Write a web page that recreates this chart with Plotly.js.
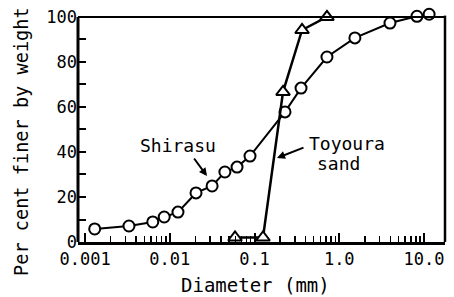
<!DOCTYPE html>
<html>
<head>
<meta charset="utf-8">
<script src="https://cdn.plot.ly/plotly-3.0.1.min.js"></script>
<style>html,body{margin:0;padding:0;background:#fff;}</style>
</head>
<body>
<div id="chart" style="width:454px;height:297px;"></div>
<script>
// Shirasu grading curve
var shirasuDiameter = [0.0013, 0.0033, 0.0063, 0.0086, 0.0125, 0.0204, 0.0316, 0.0447, 0.0622, 0.0885, 0.229, 0.354, 0.716, 1.53, 3.97, 8.26, 11.5];
var shirasuFiner    = [5.8, 7.1, 8.9, 11.1, 13.3, 21.8, 24.9, 31.1, 33.3, 38.2, 57.8, 68.4, 82.2, 90.7, 97.3, 100.3, 101.2];
// Toyoura sand grading curve
var toyouraDiameter = [0.0589, 0.126, 0.217, 0.364, 0.716];
var toyouraFiner    = [2, 2, 66.7, 94.2, 100];
// Tick labels
var xTickVals = [0.001, 0.01, 0.1, 1, 10];
var xTickText = ['0.001', '0.01', '0.1', '1.0', '10.0'];
var yTickVals = [0, 20, 40, 60, 80, 100];
var xTitle = 'Diameter (mm)';
var yTitle = 'Per cent finer by weight';

var minorVals = [];
for (var d = 0.001; d < 20; d *= 10) {
  for (var k = 2; k <= 9; k++) minorVals.push(d * k);
}
var yMinorVals = [10, 30, 50, 70, 90];

var FONT = '"DejaVu Sans Mono", monospace';

var traces = [
  {
    x: shirasuDiameter, y: shirasuFiner, type: 'scatter', mode: 'lines+markers',
    name: 'Shirasu', cliponaxis: false,
    line: {color: '#000', width: 2},
    marker: {symbol: 'circle', size: 11, color: '#fff', line: {color: '#000', width: 2}}
  },
  {
    x: toyouraDiameter, y: toyouraFiner, type: 'scatter', mode: 'lines+markers',
    name: 'Toyoura sand', cliponaxis: false,
    line: {color: '#000', width: 2.5},
    marker: {symbol: 'triangle-up', size: 12, color: '#fff', line: {color: '#000', width: 2}}
  }
];

var PH = 230; // plot height in px (t=12 .. 242)
var PW = 367; // plot width in px (78 .. 445)

var layout = {
  width: 454, height: 297,
  margin: {l: 78, r: 9, t: 12, b: 55, pad: 0},
  paper_bgcolor: '#fff', plot_bgcolor: '#fff',
  showlegend: false,
  font: {family: FONT, color: '#000', size: 17},
  xaxis: {
    type: 'log', range: [-3.083, 1.248],
    tickmode: 'array', tickvals: xTickVals, ticktext: xTickText,
    ticks: 'inside', ticklen: 9, tickwidth: 2, tickcolor: '#000',
    minor: {tickmode: 'array', tickvals: minorVals, ticks: 'inside', ticklen: 6, tickwidth: 1.5, tickcolor: '#000'},
    showline: true, linewidth: 3, linecolor: '#000', mirror: false,
    showgrid: false, zeroline: false,
    tickfont: {family: FONT, size: 17},
    automargin: false
  },
  yaxis: {
    range: [0, 102.2],
    tickmode: 'array', tickvals: yTickVals,
    ticks: 'inside', ticklen: 8, tickwidth: 2, tickcolor: '#000',
    minor: {tickmode: 'array', tickvals: yMinorVals, ticks: 'inside', ticklen: 8, tickwidth: 2, tickcolor: '#000'},
    showline: false,
    showgrid: false, zeroline: false,
    tickfont: {family: FONT, size: 17},
    automargin: false
  },
  shapes: [
    {type: 'line', xref: 'paper', yref: 'y', x0: 0, x1: 0, y0: 0, y1: 100, line: {color: '#000', width: 3}},
    {type: 'line', xref: 'paper', yref: 'y', x0: 0, x1: 1, y0: 100, y1: 100, line: {color: '#000', width: 2}},
    {type: 'line', xref: 'paper', yref: 'y', x0: 1, x1: 1, y0: 0, y1: 100.6, line: {color: '#000', width: 2.5}}
  ],
  annotations: [
    {xref: 'paper', yref: 'paper', x: (255 - 78) / PW, y: (242 - 285) / PH, text: xTitle, showarrow: false,
     font: {family: FONT, size: 19}, xanchor: 'center', yanchor: 'middle'},
    {xref: 'paper', yref: 'paper', x: (21 - 78) / PW, y: (242 - 142) / PH, text: yTitle, showarrow: false,
     textangle: -90, font: {family: FONT, size: 18.6}, xanchor: 'center', yanchor: 'middle'},
    {xref: 'paper', yref: 'paper', x: (178 - 78) / PW, y: (242 - 145) / PH, text: 'Shirasu', showarrow: false,
     font: {family: FONT, size: 18}, xanchor: 'center', yanchor: 'middle'},
    {xref: 'paper', yref: 'paper', x: (347 - 78) / PW, y: (242 - 143) / PH, text: 'Toyoura', showarrow: false,
     font: {family: FONT, size: 18}, xanchor: 'center', yanchor: 'middle'},
    {xref: 'paper', yref: 'paper', x: (338 - 78) / PW, y: (242 - 163) / PH, text: 'sand', showarrow: false,
     font: {family: FONT, size: 18}, xanchor: 'center', yanchor: 'middle'},
    {xref: 'paper', yref: 'paper', x: (207 - 78) / PW, y: (242 - 176) / PH, text: '', showarrow: true,
     ax: -14, ay: -19, arrowhead: 2, arrowsize: 0.8, arrowwidth: 2, arrowcolor: '#000'},
    {xref: 'paper', yref: 'paper', x: (277 - 78) / PW, y: (242 - 158) / PH, text: '', showarrow: true,
     ax: 28, ay: -11, arrowhead: 2, arrowsize: 0.8, arrowwidth: 2, arrowcolor: '#000'}
  ]
};

Plotly.newPlot('chart', traces, layout, {staticPlot: true, displayModeBar: false});
</script>
</body>
</html>
